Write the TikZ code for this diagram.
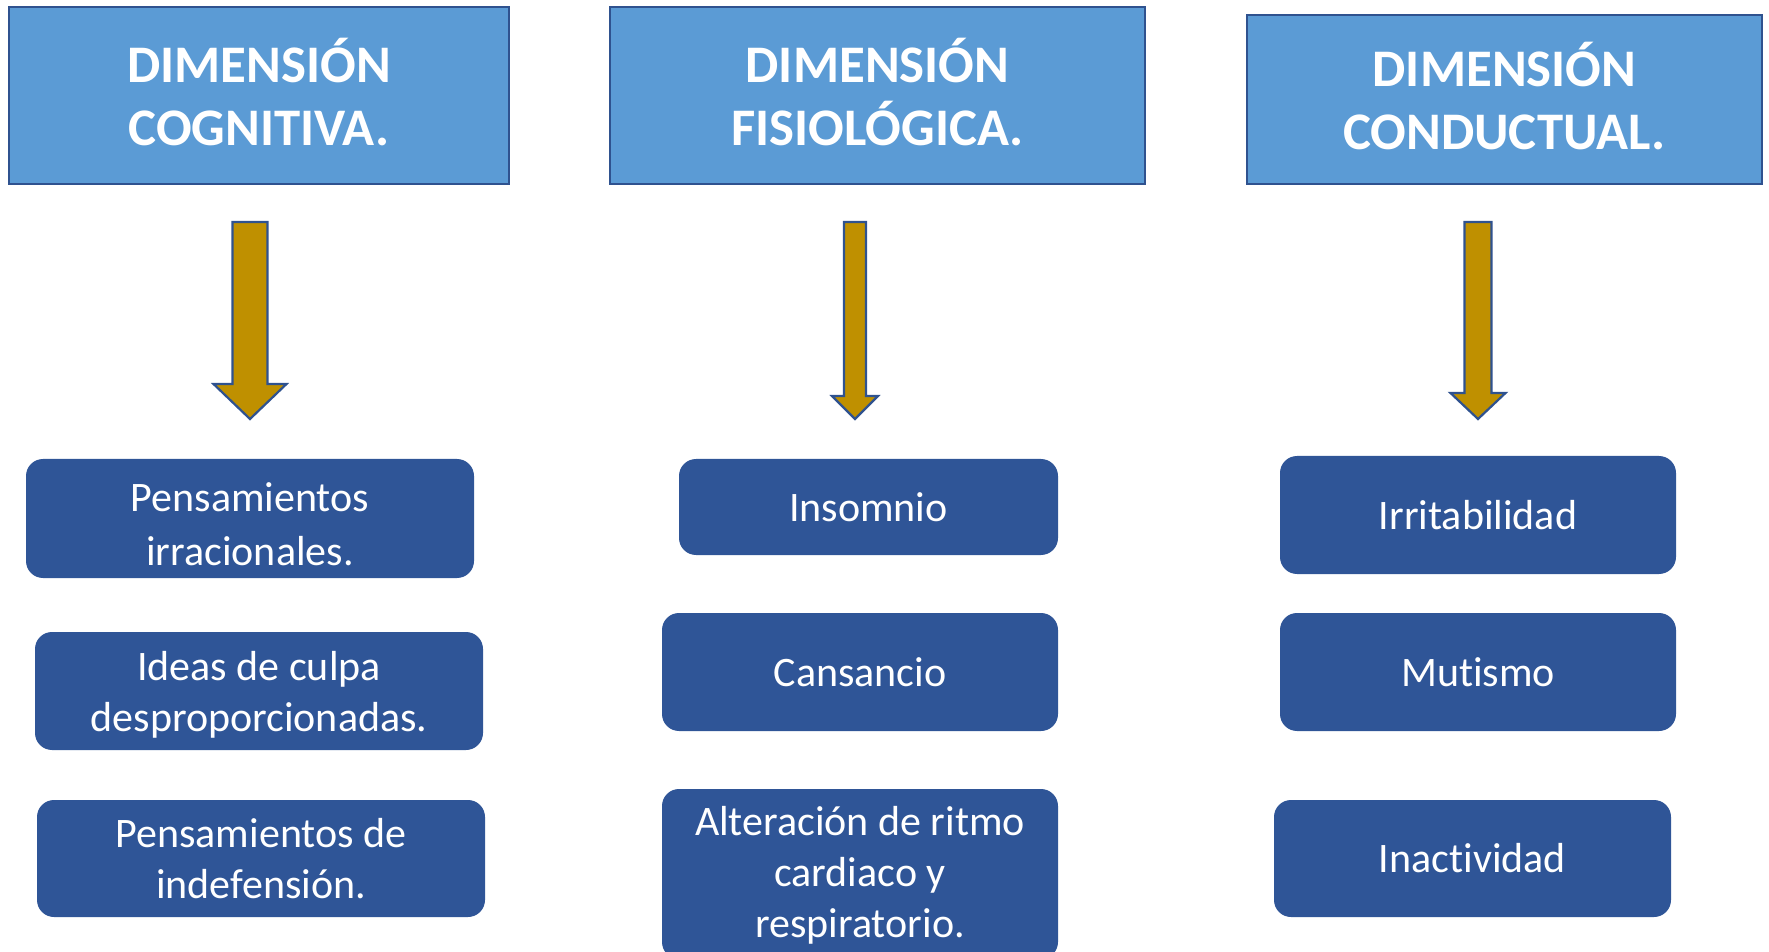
\documentclass[tikz,border=0pt]{standalone}
\usepackage{fontspec}
\setmainfont{Carlito}[Ligatures=NoCommon]
\definecolor{azul}{HTML}{5B9BD5}
\definecolor{borde}{HTML}{2F528F}
\definecolor{caja}{HTML}{2F5597}
\definecolor{oro}{HTML}{BF9000}
% flecha de bloque: x, medio ancho del tallo, medio ancho de la punta, y de la base de la punta
\newcommand\bajada[4]{\draw[fl] (#1-#2,222) -- (#1+#2,222) -- (#1+#2,#4) -- (#1+#3,#4) -- (#1,419) -- (#1-#3,#4) -- (#1-#2,#4) -- cycle;}
\begin{document}
\begin{tikzpicture}[x=0.5pt,y=-0.5pt,
  cab/.style={draw=borde,line width=1.1pt,fill=azul,text=white,align=center,inner sep=0pt,
    text depth=3.5pt,font=\fontsize{26.4}{31.6}\selectfont\bfseries},
  item/.style={fill=caja,rounded corners=8.5pt,text=white,align=center,inner sep=0pt,
    font=\fontsize{21}{25.5}\selectfont},
  fl/.style={draw=borde,line width=1.1pt,fill=oro}]
\useasboundingbox (0,0) rectangle (1769,952);
\clip (0,0) rectangle (1769,952);
\node[cab,minimum width=250pt,minimum height=88.5pt] (hc) at (259,95.5) {DIMENSIÓN\\COGNITIVA.};
\node[cab,minimum width=267.5pt,minimum height=88.5pt] (hf) at (877.5,95.5) {DIMENSIÓN\\FISIOLÓGICA.};
\node[cab,minimum width=257.5pt,minimum height=84.5pt] (hb) at (1504.5,99.5) {DIMENSIÓN\\CONDUCTUAL.};
\bajada{250}{17.5}{36.5}{384}
\bajada{855}{11}{23}{396}
\bajada{1478}{13.5}{27.5}{393}
\node[item,minimum width=224pt,minimum height=59.5pt] (c1) at (250,518.5) {\rule{0pt}{20pt}Pensamientos\\[1.5pt]irracionales.};
\node[item,minimum width=224pt,minimum height=59pt,text depth=0pt] (c2) at (259,691) {Ideas de culpa\\desproporcionadas.};
\node[item,minimum width=224pt,minimum height=58.5pt] (c3) at (261,858.5) {Pensamientos de\\indefensión.};
\node[item,minimum width=189.5pt,minimum height=48pt] (f1) at (868.5,507) {Insomnio};
\node[item,minimum width=198pt,minimum height=59pt] (f2) at (860,672) {Cansancio};
\node[item,minimum width=198pt,minimum height=85pt,text depth=2pt] (f3) at (860,874) {Alteración de ritmo\\cardiaco y\\respiratorio.};
\node[item,minimum width=198pt,minimum height=59pt] (b1) at (1478,515) {Irritabilidad};
\node[item,minimum width=198pt,minimum height=59pt] (b2) at (1478,672) {Mutismo};
\node[item,minimum width=198.5pt,minimum height=58.5pt] (b3) at (1472.5,858.5) {Inactividad};
\end{tikzpicture}
\end{document}
